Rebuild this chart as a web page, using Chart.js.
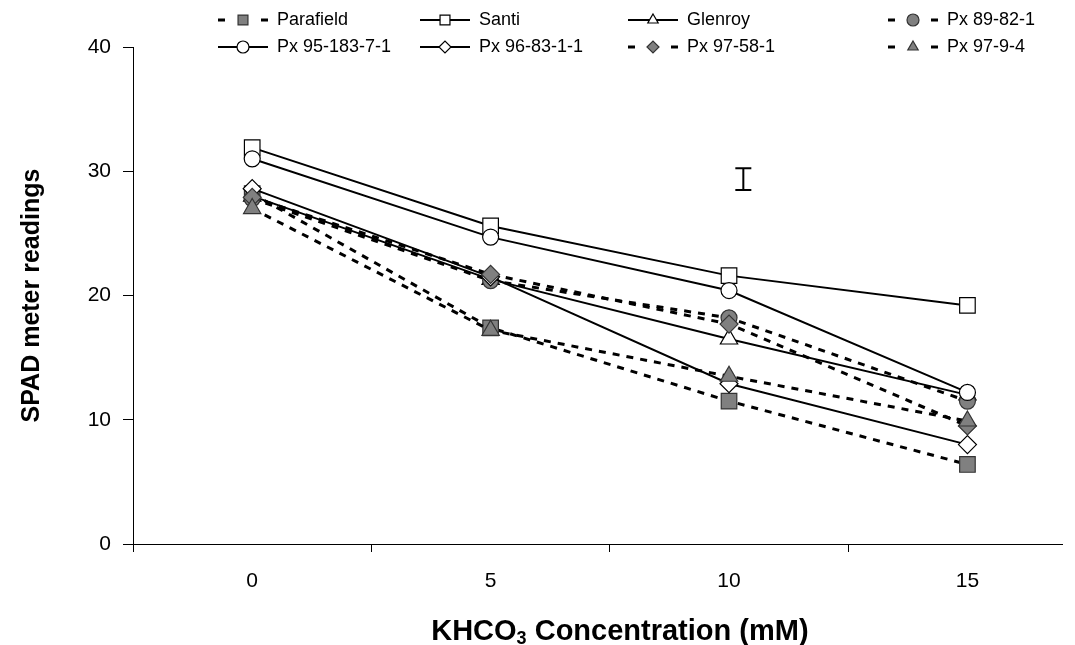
<!DOCTYPE html>
<html>
<head>
<meta charset="utf-8">
<script src="https://cdn.jsdelivr.net/npm/chart.js@4.4.0/dist/chart.umd.min.js"></script>
<style>
  html, body { margin: 0; padding: 0; background: #fff; }
  #wrap { position: relative; width: 1075px; height: 645px; }
</style>
</head>
<body>
<div id="wrap"><canvas id="chart"></canvas></div>
<script>
// KHCO3 levels (mM)
const concentrations = [0, 5, 10, 15];
const yTicks = [0, 10, 20, 30, 40];

const seriesNames = ["Parafield", "Santi", "Glenroy", "Px 89-82-1", "Px 95-183-7-1", "Px 96-83-1-1", "Px 97-58-1", "Px 97-9-4"];
const parafield = [28.2, 17.4, 11.5, 6.4];
const santi = [31.9, 25.6, 21.6, 19.2];
const glenroy = [28.0, 21.3, 16.5, 12.0];
const px89821 = [27.8, 21.2, 18.2, 11.5];
const px9518371 = [31.0, 24.7, 20.4, 12.2];
const px968311 = [28.6, 21.5, 12.9, 8.0];
const px97581 = [27.9, 21.7, 17.7, 9.5];
const px9794 = [27.0, 17.2, 13.5, 9.9];
const seriesValues = [parafield, santi, glenroy, px89821, px9518371, px968311, px97581, px9794];

// LSD bar
const lsdX = [10.3];
const lsdLow = [28.5];
const lsdHigh = [30.25];

const FONT = "'Liberation Sans', Arial, sans-serif";
const GREY = "#808080";

const looks = [
  { shape: "rect", fill: GREY, dashed: true, r: 11 },
  { shape: "rect", fill: "#fff", dashed: false, r: 11 },
  { shape: "triangle", fill: "#fff", dashed: false, r: 10 },
  { shape: "circle", fill: GREY, dashed: true, r: 8 },
  { shape: "circle", fill: "#fff", dashed: false, r: 8 },
  { shape: "rectRot", fill: "#fff", dashed: false, r: 9 },
  { shape: "rectRot", fill: GREY, dashed: true, r: 9 },
  { shape: "triangle", fill: GREY, dashed: true, r: 10 }
];

const datasets = seriesNames.map((name, i) => ({
  label: name,
  data: seriesValues[i].map((v, j) => ({ x: concentrations[j], y: v })),
  borderColor: "#000",
  borderWidth: looks[i].dashed ? 3 : 2,
  borderDash: looks[i].dashed ? [7, 7] : [],
  pointStyle: looks[i].shape,
  pointRadius: looks[i].r,
  pointBackgroundColor: looks[i].fill,
  pointBorderColor: looks[i].fill === GREY ? "#333" : "#000",
  pointBorderWidth: 1.2,
  tension: 0,
  fill: false,
  order: -i
}));

const legendCols = [218, 420, 628, 888];
const legendRows = [20, 47];

const gridLegend = {
  id: "gridLegend",
  afterDraw(chart) {
    const ctx = chart.ctx;
    ctx.save();
    seriesNames.forEach((name, i) => {
      const x = legendCols[i % 4], y = legendRows[Math.floor(i / 4)];
      const lk = looks[i];
      ctx.strokeStyle = "#000";
      ctx.setLineDash([]);
      ctx.beginPath();
      if (lk.dashed) {
        ctx.lineWidth = 3;
        ctx.moveTo(x, y); ctx.lineTo(x + 7, y);
        ctx.moveTo(x + 43, y); ctx.lineTo(x + 50, y);
      } else {
        ctx.lineWidth = 2;
        ctx.moveTo(x, y); ctx.lineTo(x + 50, y);
      }
      ctx.stroke();
      ctx.fillStyle = lk.fill;
      ctx.strokeStyle = lk.fill === GREY ? "#333" : "#000";
      ctx.lineWidth = 1.2;
      Chart.helpers.drawPoint(ctx, { pointStyle: lk.shape, radius: lk.shape === "rect" ? 7 : 6, borderWidth: 1.2 }, x + 25, y);
      ctx.fillStyle = "#000";
      ctx.font = "18px " + FONT;
      ctx.textBaseline = "middle";
      ctx.textAlign = "left";
      ctx.fillText(name, x + 59, y);
    });
    ctx.restore();
  }
};

const lsdBar = {
  id: "lsdBar",
  afterDatasetsDraw(chart) {
    const { ctx, scales: { x, y } } = chart;
    ctx.save();
    ctx.strokeStyle = "#000";
    ctx.lineWidth = 2;
    lsdX.forEach((v, i) => {
      const px = x.getPixelForValue(v);
      const top = y.getPixelForValue(lsdHigh[i]);
      const bot = y.getPixelForValue(lsdLow[i]);
      ctx.beginPath();
      ctx.moveTo(px, top); ctx.lineTo(px, bot);
      ctx.moveTo(px - 8, top); ctx.lineTo(px + 8, top);
      ctx.moveTo(px - 8, bot); ctx.lineTo(px + 8, bot);
      ctx.stroke();
    });
    ctx.restore();
  }
};

const xTitle = {
  id: "xTitle",
  afterDraw(chart) {
    const ctx = chart.ctx;
    const area = chart.chartArea;
    const big = "bold 29px " + FONT, small = "bold 18px " + FONT;
    const parts = [["KHCO", big, 0], ["3", small, 4], [" Concentration (mM)", big, 0]];
    ctx.save();
    ctx.fillStyle = "#000";
    ctx.textBaseline = "alphabetic";
    ctx.textAlign = "left";
    let total = 0;
    parts.forEach(p => { ctx.font = p[1]; total += ctx.measureText(p[0]).width; });
    let cx = (area.left + area.right) / 2 + 22 - total / 2;
    const base = 640;
    parts.forEach(p => {
      ctx.font = p[1];
      ctx.fillText(p[0], cx, base + p[2]);
      cx += ctx.measureText(p[0]).width;
    });
    ctx.restore();
  }
};

const tickMarks = concentrations.flatMap(c => [c - 2.5, c]);

new Chart(document.getElementById("chart"), {
  type: "line",
  data: { datasets },
  options: {
    responsive: true,
    maintainAspectRatio: false,
    animation: false,
    layout: { padding: { top: 47, left: 0, right: 0, bottom: 0 } },
    plugins: { legend: { display: false }, tooltip: { enabled: false } },
    scales: {
      x: {
        type: "linear",
        min: -2.5,
        max: 17.0,
        afterBuildTicks: axis => { axis.ticks = tickMarks.map(v => ({ value: v })); },
        afterFit: s => { s.height = 101; },
        ticks: {
          autoSkip: false,
          maxRotation: 0,
          padding: 17,
          color: "#000",
          font: { family: FONT, size: 21 },
          callback: v => concentrations.includes(v) ? String(v) : ""
        },
        grid: {
          drawOnChartArea: false,
          tickLength: 8,
          tickWidth: 1,
          tickColor: c => (c.tick && concentrations.includes(c.tick.value)) ? "rgba(0,0,0,0)" : "#000"
        },
        border: { display: true, color: "#000", width: 1 }
      },
      y: {
        min: 0,
        max: 40,
        afterBuildTicks: axis => { axis.ticks = yTicks.map(v => ({ value: v })); },
        afterFit: s => { s.width = 133; },
        ticks: { color: "#000", padding: 12, font: { family: FONT, size: 21 } },
        grid: { drawOnChartArea: false, tickLength: 10, tickColor: "#000" },
        border: { display: true, color: "#000", width: 1 },
        title: {
          display: true,
          text: "SPAD meter readings",
          color: "#000",
          font: { family: FONT, size: 25, weight: "bold" },
          padding: { top: 17, bottom: 0 }
        }
      }
    }
  },
  plugins: [gridLegend, lsdBar, xTitle]
});
</script>
</body>
</html>
